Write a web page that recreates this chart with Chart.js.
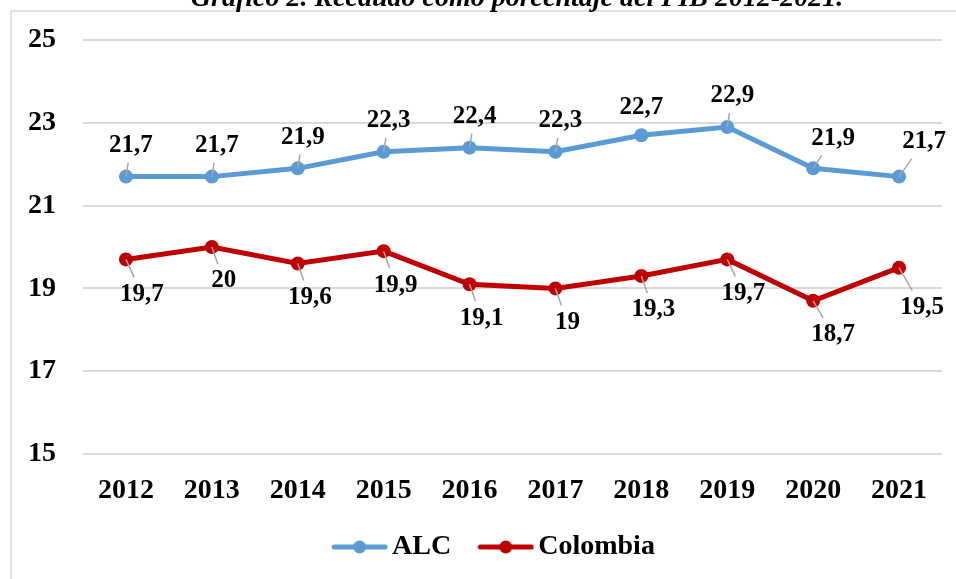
<!DOCTYPE html>
<html>
<head>
<meta charset="utf-8">
<script src="https://cdn.jsdelivr.net/npm/chart.js@4"></script>
<style>
  html, body { margin: 0; padding: 0; background: #fff; }
  canvas { display: block; }
</style>
</head>
<body>
<canvas id="line-chart" width="956" height="579"></canvas>
<script>
const years = ['2012', '2013', '2014', '2015', '2016', '2017', '2018', '2019', '2020', '2021'];
const alc = [21.7, 21.7, 21.9, 22.3, 22.4, 22.3, 22.7, 22.9, 21.9, 21.7];
const colombia = [19.7, 20, 19.6, 19.9, 19.1, 19, 19.3, 19.7, 18.7, 19.5];
const yTicks = [15, 17, 19, 21, 23, 25];
const titleText = 'Gráfico 2. Recaudo como porcentaje del PIB 2012-2021.';

const serif = '"Liberation Serif", "Times New Roman", serif';

// where each series puts its value labels, relative to the point
const labelOffsets = [[5, -31], [12, 34]];
const labelOverrides = [
    { 6: [0, -28], 8: [20, -30], 9: [25, -35] },
    { 0: [16, 35], 7: [16, 34], 8: [20, 34], 9: [23, 40] }
];

// legend icon: line with a dot, drawn on a small canvas
const makeIcon = (color) => {
    const c = document.createElement('canvas');
    c.width = 83;
    c.height = 16;
    const g = c.getContext('2d');
    g.strokeStyle = color;
    g.lineWidth = 5;
    g.lineCap = 'round';
    g.beginPath();
    g.moveTo(29, 8);
    g.lineTo(80, 8);
    g.stroke();
    g.fillStyle = color;
    g.beginPath();
    g.arc(54.5, 8, 6.5, 0, Math.PI * 2);
    g.fill();
    return c;
};
const legendIcons = [makeIcon('#5B9BD5'), makeIcon('#C00000')];

// frame + clipped title
const framePlugin = {
    id: 'frame',
    beforeDraw(chart) {
        const ctx = chart.ctx;
        ctx.save();
        ctx.fillStyle = '#fff';
        ctx.fillRect(0, 0, chart.width, chart.height);
        ctx.strokeStyle = '#d9d9d9';
        ctx.lineWidth = 1.5;
        ctx.strokeRect(11, 11, chart.width + 20, chart.height + 20);
        ctx.fillStyle = '#000';
        ctx.font = 'italic bold 28px ' + serif;
        ctx.textAlign = 'center';
        ctx.textBaseline = 'alphabetic';
        ctx.fillText(titleText, 517, 6);
        ctx.restore();
    }
};

// data labels with leader lines
const labelPlugin = {
    id: 'valueLabels',
    afterDatasetsDraw(chart) {
        const ctx = chart.ctx;
        ctx.save();
        ctx.font = 'bold 25px ' + serif;
        ctx.textAlign = 'center';
        ctx.textBaseline = 'middle';
        chart.data.datasets.forEach((ds, di) => {
            const meta = chart.getDatasetMeta(di);
            meta.data.forEach((pt, i) => {
                const off = labelOverrides[di][i] || labelOffsets[di];
                const dx = off[0], dy = off[1];
                if (dx !== 0) {
                    const f = (Math.abs(dy) - 17) / Math.abs(dy);
                    ctx.strokeStyle = '#a6a6a6';
                    ctx.lineWidth = 1.5;
                    ctx.beginPath();
                    ctx.moveTo(pt.x, pt.y);
                    ctx.lineTo(pt.x + dx * f, pt.y + dy * f);
                    ctx.stroke();
                }
                ctx.fillStyle = '#000';
                ctx.fillText(String(ds.data[i]).replace('.', ','), pt.x + dx, pt.y + dy);
            });
        });
        ctx.restore();
    }
};

const ctx = document.getElementById('line-chart').getContext('2d');

new Chart(ctx, {
    type: 'line',
    data: {
        labels: years,
        datasets: [{
            label: 'ALC',
            data: alc,
            borderColor: '#5B9BD5',
            backgroundColor: '#5B9BD5',
            pointBackgroundColor: '#5B9BD5',
            borderWidth: 5,
            pointRadius: 7,
            pointBorderWidth: 0,
            tension: 0
        }, {
            label: 'Colombia',
            data: colombia,
            borderColor: '#C00000',
            backgroundColor: '#C00000',
            pointBackgroundColor: '#C00000',
            borderWidth: 5,
            pointRadius: 7,
            pointBorderWidth: 0,
            tension: 0
        }]
    },
    plugins: [framePlugin, labelPlugin],
    options: {
        responsive: false,
        animation: false,
        layout: {
            padding: { left: 28, right: 14, top: 40, bottom: 8 }
        },
        scales: {
            x: {
                offset: true,
                grid: { display: false },
                border: { display: false },
                ticks: {
                    color: '#000',
                    font: { family: serif, size: 28, weight: 'bold' },
                    padding: 12,
                    maxRotation: 0
                },
                afterFit: (s) => { s.height = 69; }
            },
            y: {
                min: 15,
                max: 25,
                afterBuildTicks: (s) => { s.ticks = yTicks.map(v => ({ value: v })); },
                grid: { color: '#d9d9d9', lineWidth: 2, drawTicks: false },
                border: { display: false },
                ticks: {
                    color: '#000',
                    font: { family: serif, size: 28, weight: 'bold' },
                    padding: 0,
                    crossAlign: 'far'
                },
                afterFit: (s) => { s.width = 55; }
            }
        },
        plugins: {
            title: { display: false },
            tooltip: { enabled: false },
            legend: {
                position: 'bottom',
                labels: {
                    color: '#000',
                    font: { family: serif, size: 28, weight: 'bold' },
                    usePointStyle: true,
                    pointStyleWidth: 63,
                    padding: 10,
                    generateLabels: (chart) =>
                        Chart.defaults.plugins.legend.labels.generateLabels(chart)
                            .map((item, i) => ({ ...item, pointStyle: legendIcons[i] }))
                }
            }
        }
    }
});
</script>
</body>
</html>
